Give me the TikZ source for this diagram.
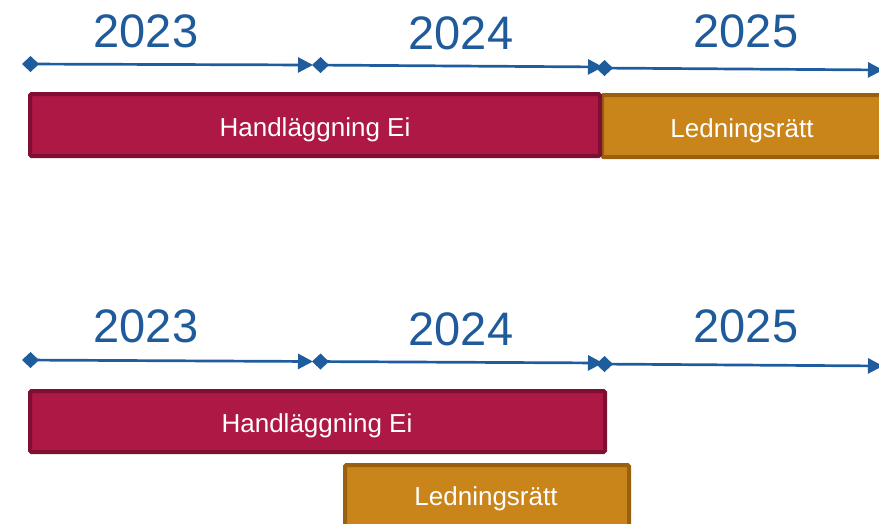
\documentclass[tikz,border=0pt]{standalone}
\usepackage{fontspec}
\setmainfont{Liberation Sans}
\usetikzlibrary{arrows.meta}
\definecolor{tlblue}{HTML}{1F5C9E}
\definecolor{yeartxt}{HTML}{1F5A9A}
\definecolor{redfill}{HTML}{AE1845}
\definecolor{redline}{HTML}{7E0F33}
\definecolor{orgfill}{HTML}{C9851A}
\definecolor{orgline}{HTML}{996010}
\tikzset{
  year/.style={anchor=base, inner sep=0pt, text=yeartxt, font=\fontsize{47}{50}\selectfont},
  span/.style={draw=tlblue, line width=2.7pt, {Diamond[length=17pt,width=16pt]}-{Triangle[length=15pt,width=15pt]}},
  redbar/.style={draw=redline, fill=redfill, line width=4pt, rounded corners=1.5pt},
  orgbar/.style={draw=orgline, fill=orgfill, line width=4pt, rounded corners=1.5pt},
  bartxt/.style={anchor=base, inner sep=0pt, text=white, font=\fontsize{26}{28}\selectfont}
}
\begin{document}
\begin{tikzpicture}[x=1pt,y=-1pt]
\useasboundingbox (0,0) rectangle (879,523);
% ---- top timeline ----
\node[year] (y1a) at (146,47) {2023};
\node[year] (y2a) at (461,49) {2024};
\node[year] (y3a) at (746,47) {2025};
\coordinate (a0) at (22,64);
\coordinate (a1e) at (313,65);
\coordinate (a1s) at (312,65);
\coordinate (a2e) at (603,67);
\coordinate (a2s) at (596,68);
\coordinate (a3e) at (883,70);
\draw[span] (a0) -- (a1e);
\draw[span] (a1s) -- (a2e);
\draw[span] (a2s) -- (a3e);
\draw[orgbar] (602,95) rectangle (895,157);
\draw[redbar] (30,94) rectangle (600,156);
\node[bartxt] (hA) at (315,136) {Handläggning Ei};
\node[bartxt] (lA) at (742,137) {Ledningsrätt};
% ---- bottom timeline ----
\node[year] (y1b) at (146,342) {2023};
\node[year] (y2b) at (461,345) {2024};
\node[year] (y3b) at (746,342) {2025};
\coordinate (b0) at (22,360);
\coordinate (b1e) at (313,361.5);
\coordinate (b1s) at (312,361.5);
\coordinate (b2e) at (603,363);
\coordinate (b2s) at (596,364);
\coordinate (b3e) at (883,366);
\draw[span] (b0) -- (b1e);
\draw[span] (b1s) -- (b2e);
\draw[span] (b2s) -- (b3e);
\draw[redbar] (30,391) rectangle (605,452);
\draw[orgbar] (345,465) rectangle (629,540);
\node[bartxt] (hB) at (317,432) {Handläggning Ei};
\node[bartxt] (lB) at (486,505) {Ledningsrätt};
\end{tikzpicture}
\end{document}
